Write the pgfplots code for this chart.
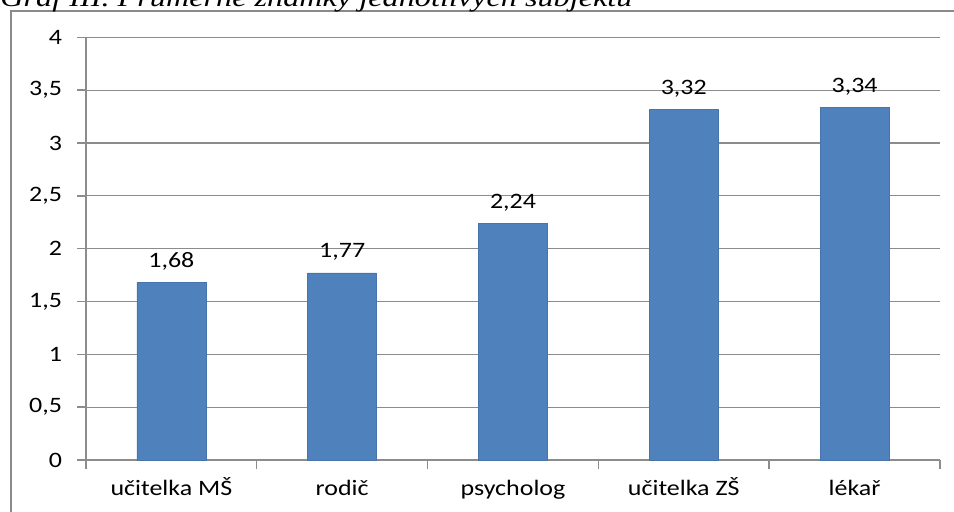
\documentclass[border=0pt]{standalone}
\usepackage{pgfplots}
\pgfplotsset{compat=1.18}
\usepackage{graphicx}
\usepackage{fontspec}
\setmainfont{Carlito}
\newfontfamily\titlefont{Liberation Serif}
\definecolor{barblue}{HTML}{4F81BD}
\definecolor{gridgray}{HTML}{8C8C8C}
\definecolor{framegray}{HTML}{8A8A8A}
\newcommand\sx[1]{\scalebox{1.18}[1]{#1}}
\begin{document}
\begin{tikzpicture}
\path[use as bounding box] (0,0) rectangle (477pt,255.5pt);
% outer frame (partly cut)
\draw[framegray, line width=1.2pt] (5.5pt,-10pt) -- (5.5pt,250pt) -- (490pt,250pt);
% cut-off title
\node[anchor=base west, inner sep=0pt] at (0pt,252.5pt)
  {\resizebox{316pt}{\height}{\titlefont\fontsize{13pt}{15pt}\selectfont\itshape Graf III. Průměrné známky jednotlivých subjektů}};
\begin{axis}[
  at={(43pt,25.5pt)}, anchor=south west,
  scale only axis, width=427pt, height=211.35pt,
  xmin=-0.5, xmax=4.5, ymin=0, ymax=4,
  axis x line*=bottom, axis y line*=left,
  axis line style={draw=gridgray, line width=0.7pt, -},
  xtick={0,1,2,3,4},
  xticklabels={\sx{učitelka MŠ},\sx{rodič},\sx{psycholog},\sx{učitelka ZŠ},\sx{lékař}},
  minor xtick={-0.5,0.5,1.5,2.5,3.5,4.5},
  major x tick style={draw=none},
  minor x tick style={draw=gridgray, line width=0.7pt},
  ytick={0,0.5,1,1.5,2,2.5,3,3.5,4},
  y tick style={draw=gridgray, line width=0.7pt},
  tick align=outside,
  major tick length=4.5pt, minor tick length=4.5pt,
  ymajorgrids, grid style={draw=gridgray, line width=0.6pt},
  yticklabel={\sx{\pgfmathprintnumber[use comma]{\tick}}},
  yticklabel style={anchor=east, xshift=-4pt},
  xticklabel style={anchor=base, yshift=-13pt},
  ticklabel style={font=\fontsize{11pt}{13pt}\selectfont, text=black},
  /pgf/number format/assume math mode=true,
  ybar, bar width=34.5pt,
  nodes near coords={\sx{\pgfmathprintnumber[use comma, fixed, fixed zerofill, precision=2, assume math mode=true]{\pgfplotspointmeta}}},
  every node near coord/.append style={font=\fontsize{11pt}{13pt}\selectfont, text=black, anchor=base, yshift=7.5pt},
]
\addplot[fill=barblue, draw=barblue!90!black, line width=0.3pt] coordinates {(0,1.68) (1,1.77) (2,2.24) (3,3.32) (4,3.34)};
\end{axis}
\end{tikzpicture}
\end{document}
